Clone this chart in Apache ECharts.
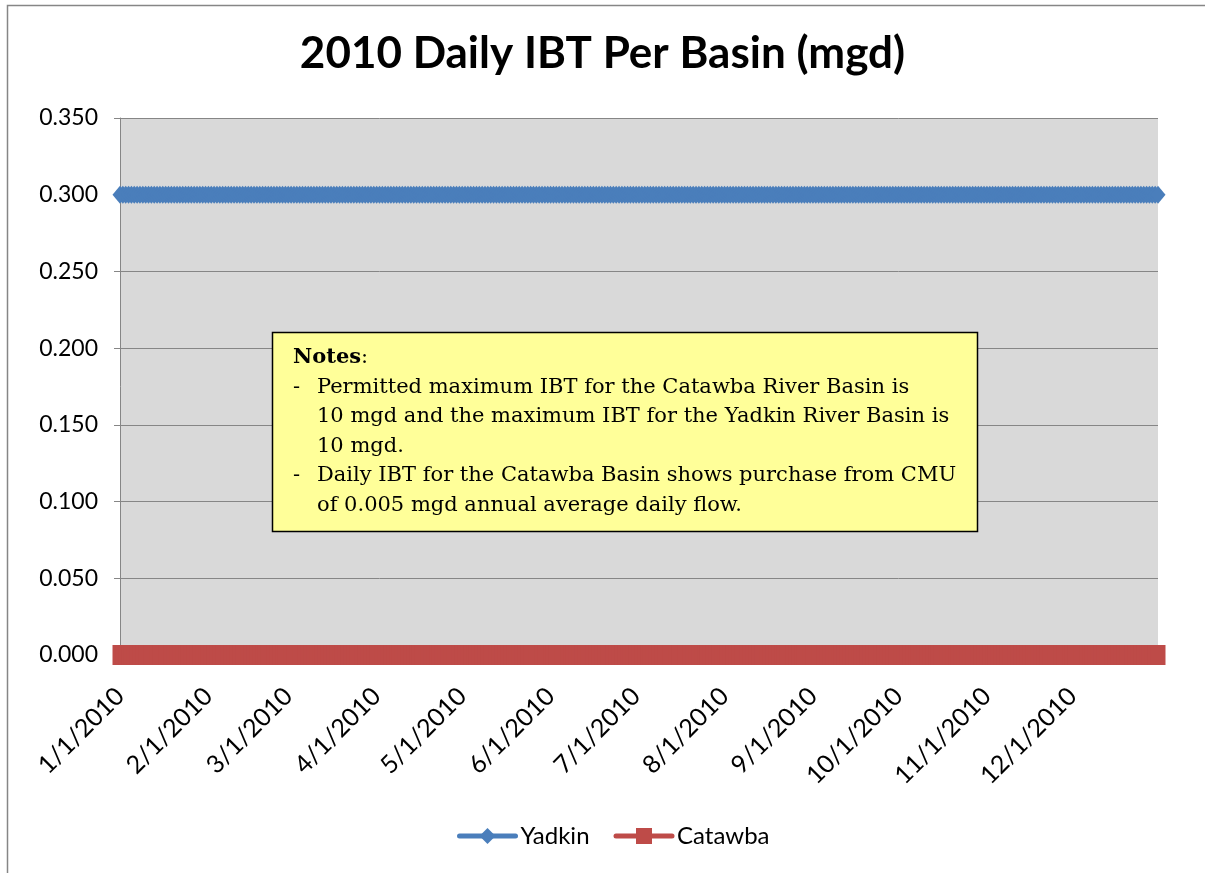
<!DOCTYPE html>
<html>
  <head>
    <meta charset="utf-8">
    <title>2010 Daily IBT Per Basin</title>
    <style>
      html, body { margin: 0; padding: 0; background: #fff; }
      #main { width: 1205px; height: 873px; }
    </style>
    <script src="https://cdn.jsdelivr.net/npm/echarts@6/dist/echarts.min.js"></script>
  </head>
  <body>
    <div id="main"></div>
    <script type="text/javascript">

      // days in each month of 2010, used to build the daily category labels
      var monthDays = [31, 28, 31, 30, 31, 30, 31, 31, 30, 31, 30, 31]
      var seriesNames = ['Yadkin', 'Catawba']

      // daily IBT (mgd), 1/1/2010 .. 12/31/2010 (365 days)
      var yadkin = [
        0.3, 0.3, 0.3, 0.3, 0.3, 0.3, 0.3, 0.3, 0.3, 0.3,
        0.3, 0.3, 0.3, 0.3, 0.3, 0.3, 0.3, 0.3, 0.3, 0.3,
        0.3, 0.3, 0.3, 0.3, 0.3, 0.3, 0.3, 0.3, 0.3, 0.3,
        0.3, 0.3, 0.3, 0.3, 0.3, 0.3, 0.3, 0.3, 0.3, 0.3,
        0.3, 0.3, 0.3, 0.3, 0.3, 0.3, 0.3, 0.3, 0.3, 0.3,
        0.3, 0.3, 0.3, 0.3, 0.3, 0.3, 0.3, 0.3, 0.3, 0.3,
        0.3, 0.3, 0.3, 0.3, 0.3, 0.3, 0.3, 0.3, 0.3, 0.3,
        0.3, 0.3, 0.3, 0.3, 0.3, 0.3, 0.3, 0.3, 0.3, 0.3,
        0.3, 0.3, 0.3, 0.3, 0.3, 0.3, 0.3, 0.3, 0.3, 0.3,
        0.3, 0.3, 0.3, 0.3, 0.3, 0.3, 0.3, 0.3, 0.3, 0.3,
        0.3, 0.3, 0.3, 0.3, 0.3, 0.3, 0.3, 0.3, 0.3, 0.3,
        0.3, 0.3, 0.3, 0.3, 0.3, 0.3, 0.3, 0.3, 0.3, 0.3,
        0.3, 0.3, 0.3, 0.3, 0.3, 0.3, 0.3, 0.3, 0.3, 0.3,
        0.3, 0.3, 0.3, 0.3, 0.3, 0.3, 0.3, 0.3, 0.3, 0.3,
        0.3, 0.3, 0.3, 0.3, 0.3, 0.3, 0.3, 0.3, 0.3, 0.3,
        0.3, 0.3, 0.3, 0.3, 0.3, 0.3, 0.3, 0.3, 0.3, 0.3,
        0.3, 0.3, 0.3, 0.3, 0.3, 0.3, 0.3, 0.3, 0.3, 0.3,
        0.3, 0.3, 0.3, 0.3, 0.3, 0.3, 0.3, 0.3, 0.3, 0.3,
        0.3, 0.3, 0.3, 0.3, 0.3, 0.3, 0.3, 0.3, 0.3, 0.3,
        0.3, 0.3, 0.3, 0.3, 0.3, 0.3, 0.3, 0.3, 0.3, 0.3,
        0.3, 0.3, 0.3, 0.3, 0.3, 0.3, 0.3, 0.3, 0.3, 0.3,
        0.3, 0.3, 0.3, 0.3, 0.3, 0.3, 0.3, 0.3, 0.3, 0.3,
        0.3, 0.3, 0.3, 0.3, 0.3, 0.3, 0.3, 0.3, 0.3, 0.3,
        0.3, 0.3, 0.3, 0.3, 0.3, 0.3, 0.3, 0.3, 0.3, 0.3,
        0.3, 0.3, 0.3, 0.3, 0.3, 0.3, 0.3, 0.3, 0.3, 0.3,
        0.3, 0.3, 0.3, 0.3, 0.3, 0.3, 0.3, 0.3, 0.3, 0.3,
        0.3, 0.3, 0.3, 0.3, 0.3, 0.3, 0.3, 0.3, 0.3, 0.3,
        0.3, 0.3, 0.3, 0.3, 0.3, 0.3, 0.3, 0.3, 0.3, 0.3,
        0.3, 0.3, 0.3, 0.3, 0.3, 0.3, 0.3, 0.3, 0.3, 0.3,
        0.3, 0.3, 0.3, 0.3, 0.3, 0.3, 0.3, 0.3, 0.3, 0.3,
        0.3, 0.3, 0.3, 0.3, 0.3, 0.3, 0.3, 0.3, 0.3, 0.3,
        0.3, 0.3, 0.3, 0.3, 0.3, 0.3, 0.3, 0.3, 0.3, 0.3,
        0.3, 0.3, 0.3, 0.3, 0.3, 0.3, 0.3, 0.3, 0.3, 0.3,
        0.3, 0.3, 0.3, 0.3, 0.3, 0.3, 0.3, 0.3, 0.3, 0.3,
        0.3, 0.3, 0.3, 0.3, 0.3, 0.3, 0.3, 0.3, 0.3, 0.3,
        0.3, 0.3, 0.3, 0.3, 0.3, 0.3, 0.3, 0.3, 0.3, 0.3,
        0.3, 0.3, 0.3, 0.3, 0.3
      ]

      var catawba = [
        0, 0, 0, 0, 0, 0, 0, 0, 0, 0,
        0, 0, 0, 0, 0, 0, 0, 0, 0, 0,
        0, 0, 0, 0, 0, 0, 0, 0, 0, 0,
        0, 0, 0, 0, 0, 0, 0, 0, 0, 0,
        0, 0, 0, 0, 0, 0, 0, 0, 0, 0,
        0, 0, 0, 0, 0, 0, 0, 0, 0, 0,
        0, 0, 0, 0, 0, 0, 0, 0, 0, 0,
        0, 0, 0, 0, 0, 0, 0, 0, 0, 0,
        0, 0, 0, 0, 0, 0, 0, 0, 0, 0,
        0, 0, 0, 0, 0, 0, 0, 0, 0, 0,
        0, 0, 0, 0, 0, 0, 0, 0, 0, 0,
        0, 0, 0, 0, 0, 0, 0, 0, 0, 0,
        0, 0, 0, 0, 0, 0, 0, 0, 0, 0,
        0, 0, 0, 0, 0, 0, 0, 0, 0, 0,
        0, 0, 0, 0, 0, 0, 0, 0, 0, 0,
        0, 0, 0, 0, 0, 0, 0, 0, 0, 0,
        0, 0, 0, 0, 0, 0, 0, 0, 0, 0,
        0, 0, 0, 0, 0, 0, 0, 0, 0, 0,
        0, 0, 0, 0, 0, 0, 0, 0, 0, 0,
        0, 0, 0, 0, 0, 0, 0, 0, 0, 0,
        0, 0, 0, 0, 0, 0, 0, 0, 0, 0,
        0, 0, 0, 0, 0, 0, 0, 0, 0, 0,
        0, 0, 0, 0, 0, 0, 0, 0, 0, 0,
        0, 0, 0, 0, 0, 0, 0, 0, 0, 0,
        0, 0, 0, 0, 0, 0, 0, 0, 0, 0,
        0, 0, 0, 0, 0, 0, 0, 0, 0, 0,
        0, 0, 0, 0, 0, 0, 0, 0, 0, 0,
        0, 0, 0, 0, 0, 0, 0, 0, 0, 0,
        0, 0, 0, 0, 0, 0, 0, 0, 0, 0,
        0, 0, 0, 0, 0, 0, 0, 0, 0, 0,
        0, 0, 0, 0, 0, 0, 0, 0, 0, 0,
        0, 0, 0, 0, 0, 0, 0, 0, 0, 0,
        0, 0, 0, 0, 0, 0, 0, 0, 0, 0,
        0, 0, 0, 0, 0, 0, 0, 0, 0, 0,
        0, 0, 0, 0, 0, 0, 0, 0, 0, 0,
        0, 0, 0, 0, 0, 0, 0, 0, 0, 0,
        0, 0, 0, 0, 0
      ]

      // y axis range
      var yMin = 0
      var yMax = 0.35
      var yStep = 0.05

      // build the "m/d/2010" labels for every day
      var days = []
      for (var m = 0; m < monthDays.length; m++) {
        for (var d = 1; d <= monthDays[m]; d++) {
          days.push((m + 1) + '/' + d + '/2010')
        }
      }

      var myChart = echarts.init(document.getElementById('main'));

      var option = {
        animation: false,
        title: {
          text: '2010 Daily IBT Per Basin (mgd)',
          left: 'center',
          top: 32,
          padding: 0,
          textStyle: {
            fontFamily: 'Lato',
            fontWeight: 'bold',
            fontSize: 44,
            color: '#000'
          }
        },
        grid: {
          left: 120,
          right: 47,
          top: 118,
          bottom: 218,
          show: true,
          backgroundColor: '#d9d9d9',
          borderWidth: 0
        },
        legend: {
          bottom: 20,
          left: 452,
          itemWidth: 56,
          itemHeight: 20,
          itemGap: 24,
          textStyle: { fontFamily: 'Lato', fontSize: 24, color: '#000' },
          lineStyle: { width: 5, cap: 'round' },
          data: seriesNames
        },
        xAxis: {
          type: 'category',
          data: days,
          boundaryGap: false,
          axisLine: { show: true, lineStyle: { color: '#868686', width: 1 } },
          axisTick: { show: false },
          axisLabel: {
            rotate: 45,
            margin: 37,
            fontFamily: 'Lato',
            fontSize: 25,
            color: '#000',
            interval: function (index, value) {
              return value.split('/')[1] === '1'
            }
          },
          splitLine: { show: false }
        },
        yAxis: {
          type: 'value',
          min: yMin,
          max: yMax,
          interval: yStep,
          axisLine: { show: true, lineStyle: { color: '#868686', width: 1 } },
          axisTick: { show: true, length: 6, lineStyle: { color: '#868686' } },
          axisLabel: {
            margin: 22,
            fontFamily: 'Lato',
            fontSize: 23,
            color: '#000',
            formatter: function (v) { return v.toFixed(3) }
          },
          splitLine: { show: true, lineStyle: { color: '#868686', width: 1 } }
        },
        graphic: [
          {
            type: 'rect',
            shape: { x: 7.5, y: 5.5, width: 1220, height: 900 },
            style: { fill: 'none', stroke: '#868686', lineWidth: 1.5 },
            z: 100
          },
          {
            type: 'rect',
            shape: { x: 272.5, y: 332.5, width: 705, height: 199 },
            style: { fill: '#ffff99', stroke: '#000', lineWidth: 1.5 },
            z: 100
          },
          {
            type: 'text',
            x: 293, y: 358, z: 101,
            style: {
              text: '{b|Notes}:',
              font: '21px "DejaVu Serif"',
              fill: '#000',
              verticalAlign: 'middle',
              rich: { b: { fontWeight: 'bold', fontFamily: 'DejaVu Serif', fontSize: 21 } }
            }
          },
          { type: 'text', x: 293, y: 388, z: 101, style: { text: '-', font: '21px "DejaVu Serif"', fill: '#000', verticalAlign: 'middle' } },
          { type: 'text', x: 317, y: 388, z: 101, style: { text: 'Permitted maximum IBT for the Catawba River Basin is', font: '21px "DejaVu Serif"', fill: '#000', verticalAlign: 'middle' } },
          { type: 'text', x: 317, y: 417, z: 101, style: { text: '10 mgd and the maximum IBT for the Yadkin River Basin is', font: '21px "DejaVu Serif"', fill: '#000', verticalAlign: 'middle' } },
          { type: 'text', x: 317, y: 447, z: 101, style: { text: '10 mgd.', font: '21px "DejaVu Serif"', fill: '#000', verticalAlign: 'middle' } },
          { type: 'text', x: 293, y: 476, z: 101, style: { text: '-', font: '21px "DejaVu Serif"', fill: '#000', verticalAlign: 'middle' } },
          { type: 'text', x: 317, y: 476, z: 101, style: { text: 'Daily IBT for the Catawba Basin shows purchase from CMU', font: '21px "DejaVu Serif"', fill: '#000', verticalAlign: 'middle' } },
          { type: 'text', x: 317, y: 506, z: 101, style: { text: 'of 0.005 mgd annual average daily flow.', font: '21px "DejaVu Serif"', fill: '#000', verticalAlign: 'middle' } }
        ],
        series: [
          {
            name: seriesNames[0],
            type: 'line',
            data: yadkin,
            symbol: 'diamond',
            symbolSize: [15, 18],
            showAllSymbol: true,
            lineStyle: { color: '#4a7ebb', width: 4 },
            itemStyle: { color: '#4a7ebb' }
          },
          {
            name: seriesNames[1],
            type: 'line',
            data: catawba,
            symbol: 'rect',
            symbolSize: [15, 20],
            showAllSymbol: true,
            lineStyle: { color: '#be4b48', width: 4 },
            itemStyle: { color: '#be4b48' }
          }
        ]
      };

      myChart.setOption(option);

    </script>
  </body>
</html>
